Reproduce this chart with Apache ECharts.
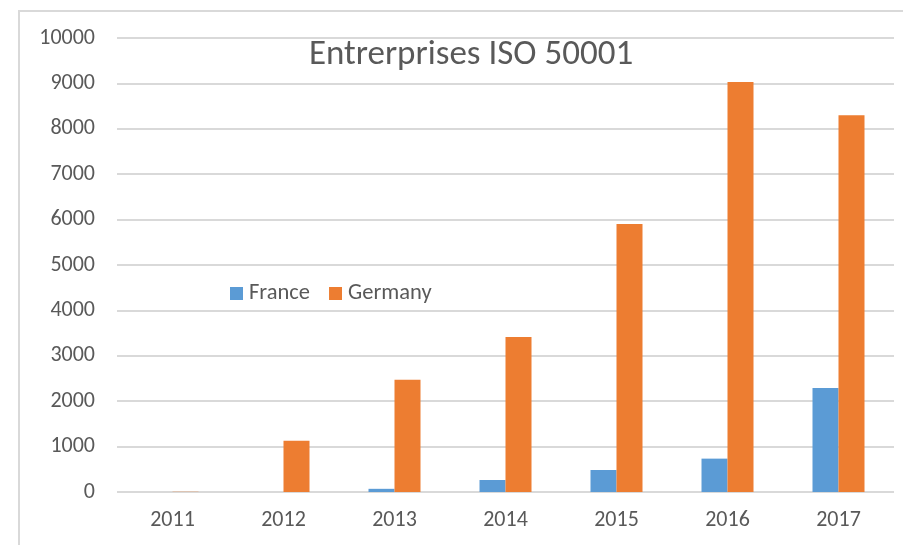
<!DOCTYPE html>
<html>
<head>
<meta charset="utf-8">
<script src="https://cdn.jsdelivr.net/npm/echarts@6/dist/echarts.min.js"></script>
<style>
  html, body { margin: 0; padding: 0; background: #fff; }
  #chart { width: 903px; height: 545px; }
</style>
</head>
<body>
<div id="chart"></div>
<script>
// data
const years = ['2011', '2012', '2013', '2014', '2015', '2016', '2017']
const france = [0, 0, 70, 265, 485, 735, 2290]
const germany = [5, 1130, 2470, 3415, 5905, 9030, 8300]
const yTicks = { min: 0, max: 10000, step: 1000 }

const chart = echarts.init(document.getElementById('chart'))
const textColor = '#595959'
const font = 'Carlito, "Open Sans", "Liberation Sans", sans-serif'

chart.setOption({
  animation: false,
  // outer frame of the chart area (clipped at the right and bottom)
  graphic: [{
    type: 'rect',
    shape: { x: 19, y: 11, width: 1000, height: 1000 },
    style: { fill: 'none', stroke: '#d9d9d9', lineWidth: 2 },
    z: -1
  }],
  title: {
    text: 'Entrerprises ISO 50001',
    left: 466,
    top: 33,
    textAlign: 'center',
    textStyle: { fontFamily: font, fontSize: 35, fontWeight: 'normal', color: textColor }
  },
  legend: {
    left: 225,
    top: 277,
    itemWidth: 13,
    itemHeight: 13,
    itemGap: 19,
    icon: 'rect',
    textStyle: { fontFamily: font, fontSize: 22.5, color: textColor, padding: [0, 0, 0, 1] },
    data: ['France', 'Germany']
  },
  grid: { left: 117, right: 9, top: 38, bottom: 53 },
  xAxis: {
    type: 'category',
    data: years,
    axisLine: { show: false },
    axisTick: { show: false },
    axisLabel: { fontFamily: font, fontSize: 22, color: textColor, margin: 17 }
  },
  yAxis: {
    type: 'value',
    min: yTicks.min,
    max: yTicks.max,
    interval: yTicks.step,
    axisLine: { show: false },
    axisTick: { show: false },
    axisLabel: { fontFamily: font, fontSize: 22, color: textColor, margin: 22, formatter: v => String(v) },
    splitLine: { lineStyle: { color: '#d9d9d9', width: 2 } }
  },
  series: [
    {
      name: 'France',
      type: 'bar',
      data: france,
      barWidth: 26,
      barGap: '0%',
      itemStyle: { color: '#5b9bd5' }
    },
    {
      name: 'Germany',
      type: 'bar',
      data: germany,
      barWidth: 26,
      itemStyle: { color: '#ed7d31' }
    }
  ]
})
</script>
</body>
</html>
